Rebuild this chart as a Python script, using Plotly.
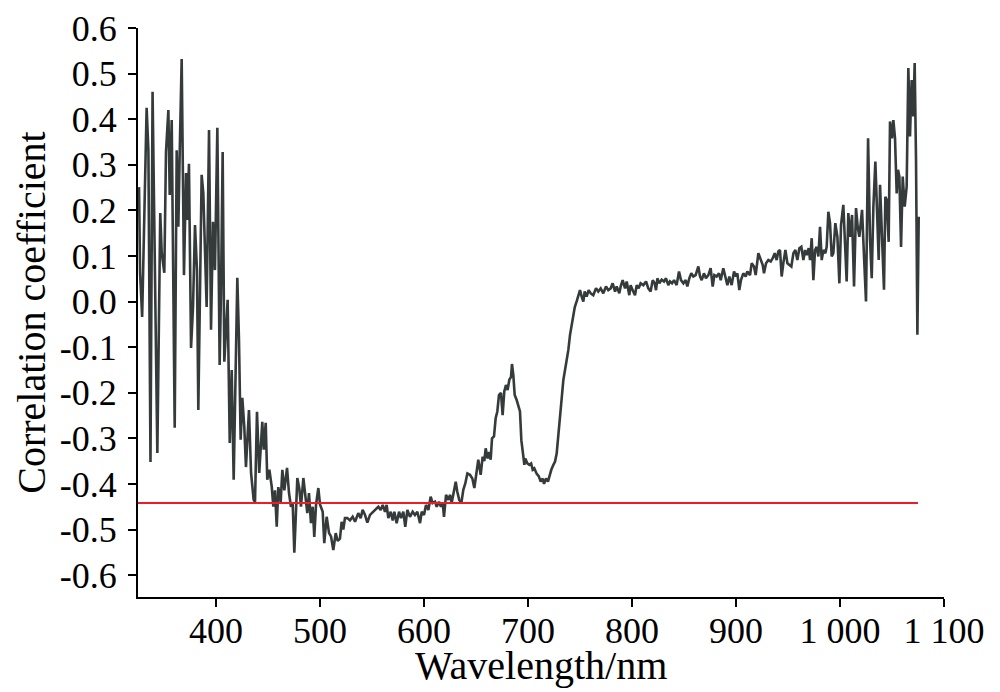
import plotly.graph_objects as go

# ---------------- data ----------------
wavelength_nm = [
    326.0, 327.0, 329.0, 333.3, 335.0, 337.0, 339.0, 341.3, 343.6, 346.4, 347.8, 350.3, 351.9, 354.2,
    355.5, 357.4, 360.3, 362.2, 363.8, 365.1, 367.0, 369.2, 371.2, 372.4, 374.0, 376.0, 377.9, 379.8,
    381.7, 383.0, 386.2, 387.8, 390.1, 391.0, 393.3, 395.2, 397.1, 399.0, 401.3, 403.5, 404.8, 406.4,
    408.0, 409.3, 411.2, 413.2, 415.1, 417.0, 418.9, 420.5,
    422.1, 423.7, 425.3, 427.2, 428.8, 431.7, 433.7, 436.2, 437.5, 439.4, 441.6, 444.5, 445.9, 447.8,
    449.3, 451.3, 453.6, 455.1, 456.7, 458.4, 459.9, 462.2, 463.8, 465.7, 468.3, 470.2, 472.1, 473.7,
    475.3, 476.9, 478.2, 480.1, 481.7, 484.0, 485.6, 487.8, 489.4, 491.3, 493.0, 494.5, 496.2, 498.4,
    500.0, 502.6, 504.1, 506.4, 508.7, 510.6, 512.8, 515.1, 517.0, 519.2,
    520.8, 522.4, 524.0, 526.3, 528.8, 531.4, 533.7, 536.8, 539.1, 541.0, 543.3, 545.5, 548.1, 551.3,
    553.8, 556.1, 558.3, 560.3, 562.5, 564.1, 565.7, 568.0, 569.9, 571.5, 573.7, 576.0, 577.9, 580.1,
    582.0, 584.0, 586.5, 589.1, 591.3, 593.6, 596.2, 597.8, 600.0, 601.9, 604.2, 606.4, 608.3, 610.6,
    612.2, 614.4, 616.3, 618.0, 619.2, 621.2, 623.4, 625.0, 626.6, 628.5, 630.5, 632.0, 633.9, 635.9,
    637.8, 639.7, 641.7, 644.2, 646.5, 648.4, 650.3, 652.2, 654.5, 656.4, 658.0, 659.3, 661.2, 662.8,
    664.1, 665.4, 667.3, 668.9, 670.5, 672.1, 674.0, 675.6, 677.2, 678.8, 680.4, 682.0, 683.7, 684.6,
    685.9, 687.2, 689.1, 691.1, 692.3, 693.6, 694.9, 696.5, 697.4, 699.4, 701.3, 703.0, 704.5, 706.1,
    708.4, 710.3, 712.2, 714.1, 715.4, 717.3, 719.2, 720.5, 722.4, 724.4, 726.0, 727.6, 729.2, 730.8,
    732.4, 734.0, 735.6, 737.2, 738.8, 740.4, 742.0, 743.5, 745.0, 747.0, 748.5,
    750.0, 751.6, 753.2, 754.5, 756.4, 758.3, 760.3, 762.8, 765.4, 767.6, 769.9, 772.4, 775.0, 777.2,
    779.5, 781.4, 783.7, 785.3, 787.8, 789.1, 791.0, 793.3, 794.9, 797.4, 798.7, 800.6, 802.9, 804.5,
    806.4, 808.3, 810.9, 813.5, 815.7, 817.9, 819.9, 821.8, 823.1, 824.4, 826.3, 828.5, 830.8, 832.7,
    834.9, 836.5, 838.5, 840.4, 842.9, 845.2, 847.1, 849.4, 851.6, 853.2, 855.1, 857.0, 859.0, 861.2,
    863.8, 865.4, 867.0, 869.2, 871.1, 873.4, 875.6, 877.6, 879.2, 881.4, 883.6, 885.3, 887.8, 889.7,
    891.7, 893.6, 895.8, 898.1, 900.0, 901.3, 903.2, 904.8, 907.0, 909.3, 910.9, 913.5, 915.1, 917.3,
    918.9, 921.5,
    923.1, 925.7, 926.9, 928.9, 931.1, 933.4, 935.3, 937.2, 939.1, 940.7, 942.3, 943.9, 945.5, 947.5,
    949.4, 951.3, 953.2, 955.2, 957.1, 959.0, 960.9, 962.8, 964.8, 966.4, 968.0, 969.9, 971.2, 972.8,
    974.4, 976.0, 977.6, 979.2, 980.8, 982.4, 984.0, 985.9, 987.2, 988.8, 990.4, 992.0, 993.6, 995.5,
    997.5, 999.4, 1001.0, 1003.2, 1004.8, 1006.4, 1008.0, 1009.6, 1011.6, 1013.5, 1015.4, 1017.0,
    1018.6, 1021.2, 1023.1, 1025.0, 1027.0, 1028.9, 1030.5, 1032.1, 1034.0, 1035.9, 1037.2, 1038.5,
    1040.4, 1042.3, 1043.6, 1044.9, 1046.8, 1048.1, 1050.0, 1051.3, 1052.9, 1054.5, 1055.8, 1057.1,
    1058.7, 1060.3, 1062.2, 1064.1, 1065.7, 1067.3, 1068.9, 1070.5, 1071.8, 1073.1, 1074.4, 1075.7,
]

correlation = [
    0.251, 0.063, -0.034, 0.425, 0.332, -0.352, 0.460, 0.047, -0.332, 0.194, 0.107, 0.063, 0.328, 0.420,
    0.234, 0.398, -0.277, 0.332, 0.164, 0.326, 0.532, 0.058, 0.282, 0.179, 0.302, -0.102, -0.012, 0.168,
    0.069, -0.238, 0.278, 0.238, 0.025, -0.012, 0.376, -0.062, 0.175, 0.069, 0.381, -0.139, 0.019, 0.328,
    -0.132, -0.062, 0.004, -0.310, -0.150, -0.391, -0.172, 0.052,
    -0.084, -0.303, -0.211, -0.275, -0.363, -0.238, -0.376, -0.435, -0.440, -0.242, -0.376, -0.264, -0.325, -0.266,
    -0.391, -0.369, -0.406, -0.450, -0.414, -0.494, -0.407, -0.440, -0.369, -0.414, -0.365, -0.420, -0.450, -0.440,
    -0.551, -0.450, -0.387, -0.410, -0.450, -0.387, -0.420, -0.464, -0.420, -0.486, -0.450, -0.516, -0.445, -0.409,
    -0.445, -0.461, -0.530, -0.472, -0.508, -0.515, -0.545, -0.508, -0.525, -0.520,
    -0.483, -0.500, -0.475, -0.475, -0.480, -0.472, -0.483, -0.464, -0.475, -0.457, -0.468, -0.485, -0.468, -0.461,
    -0.457, -0.450, -0.457, -0.446, -0.461, -0.446, -0.475, -0.461, -0.480, -0.461, -0.486, -0.461, -0.475, -0.461,
    -0.494, -0.457, -0.472, -0.461, -0.468, -0.461, -0.486, -0.461, -0.468, -0.446, -0.457, -0.428, -0.442, -0.439,
    -0.450, -0.439, -0.450, -0.442, -0.472, -0.424, -0.435, -0.424, -0.442, -0.417, -0.395, -0.417, -0.435, -0.442,
    -0.413, -0.399, -0.377, -0.380, -0.388, -0.409, -0.377, -0.347, -0.380, -0.340, -0.350, -0.322, -0.344, -0.330,
    -0.347, -0.300, -0.296, -0.256, -0.241, -0.205, -0.200, -0.249, -0.197, -0.183, -0.194, -0.172, -0.165, -0.137,
    -0.162, -0.205, -0.216, -0.234, -0.241, -0.304, -0.325, -0.358, -0.344, -0.355, -0.358, -0.355, -0.369, -0.366,
    -0.378, -0.383, -0.395, -0.388, -0.400, -0.388, -0.395, -0.383, -0.369, -0.358, -0.351, -0.333, -0.289, -0.245,
    -0.208, -0.172, -0.150, -0.128, -0.106, -0.073, -0.050, -0.030, -0.012, 0.002, 0.015,
    0.025, 0.011, 0.000, 0.022, 0.011, 0.025, 0.018, 0.014, 0.029, 0.022, 0.029, 0.018, 0.033, 0.025,
    0.029, 0.040, 0.022, 0.033, 0.018, 0.033, 0.047, 0.029, 0.044, 0.014, 0.036, 0.025, 0.014, 0.036,
    0.029, 0.040, 0.036, 0.044, 0.029, 0.022, 0.047, 0.040, 0.025, 0.051, 0.040, 0.048, 0.044, 0.051,
    0.036, 0.044, 0.040, 0.047, 0.036, 0.066, 0.047, 0.040, 0.047, 0.033, 0.051, 0.062, 0.055, 0.058,
    0.077, 0.055, 0.047, 0.062, 0.051, 0.058, 0.073, 0.033, 0.058, 0.055, 0.062, 0.047, 0.073, 0.055,
    0.036, 0.055, 0.036, 0.066, 0.055, 0.062, 0.025, 0.047, 0.062, 0.055, 0.066, 0.058, 0.084, 0.077,
    0.058, 0.106,
    0.095, 0.080, 0.062, 0.084, 0.091, 0.088, 0.095, 0.106, 0.091, 0.110, 0.113, 0.055, 0.084, 0.113,
    0.084, 0.080, 0.077, 0.106, 0.113, 0.091, 0.117, 0.120, 0.091, 0.113, 0.102, 0.117, 0.091, 0.139,
    0.047, 0.113, 0.120, 0.099, 0.164, 0.091, 0.113, 0.106, 0.120, 0.197, 0.172, 0.099, 0.106, 0.172,
    0.142, 0.040, 0.168, 0.212, 0.120, 0.044, 0.194, 0.142, 0.190, 0.033, 0.205, 0.164,
    0.142, 0.201, 0.099, 0.000, 0.358, 0.135, 0.051, 0.208, 0.307, 0.201, 0.091, 0.256,
    0.150, 0.026, 0.230, 0.223, 0.131, 0.395, 0.358, 0.398, 0.358, 0.237, 0.289, 0.274,
    0.120, 0.274, 0.208, 0.252, 0.512, 0.362, 0.486, 0.406, 0.523, 0.311, -0.073, 0.186,
]

threshold_value = -0.442
threshold_span_nm = [325, 1075]

x_tick_values = [400, 500, 600, 700, 800, 900, 1000, 1100]
x_tick_labels = ["400", "500", "600", "700", "800", "900", "1 000", "1 100"]
y_tick_values = [0.6, 0.5, 0.4, 0.3, 0.2, 0.1, 0.0, -0.1, -0.2, -0.3, -0.4, -0.5, -0.6]
y_tick_labels = ["0.6", "0.5", "0.4", "0.3", "0.2", "0.1", "0.0",
                 "-0.1", "-0.2", "-0.3", "-0.4", "-0.5", "-0.6"]

x_title = "Wavelength/nm"
y_title = "Correlation coefficient"

# ---------------- figure ----------------
FONT = "Liberation Serif, Times New Roman, serif"
TICK_SIZE = 36
TITLE_SIZE = 40

fig = go.Figure()
fig.add_trace(go.Scatter(
    x=wavelength_nm, y=correlation, mode="lines",
    line=dict(color="#353b3b", width=2.6),
    showlegend=False, hoverinfo="skip",
))
fig.add_trace(go.Scatter(
    x=threshold_span_nm, y=[threshold_value] * len(threshold_span_nm), mode="lines",
    line=dict(color="#ee1c25", width=2),
    showlegend=False, hoverinfo="skip",
))

# the page body adds an 8 px offset, margins compensate for it
fig.update_layout(
    width=1000, height=692,
    margin=dict(l=130, r=64, t=20, b=103, autoexpand=False),
    paper_bgcolor="white", plot_bgcolor="white",
    font=dict(family=FONT, size=TICK_SIZE, color="black"),
)
fig.update_xaxes(
    range=[325, 1100], automargin=False,
    tickmode="array", tickvals=x_tick_values, ticktext=x_tick_labels,
    showgrid=False, zeroline=False,
    showline=True, linecolor="black", linewidth=2,
    ticks="outside", ticklen=8, tickwidth=2, tickcolor="black",
    tickfont=dict(family=FONT, size=TICK_SIZE, color="black"),
    ticklabelstandoff=-7,
)
fig.update_yaxes(
    range=[-0.648, 0.6], automargin=False,
    tickmode="array", tickvals=y_tick_values, ticktext=y_tick_labels,
    showgrid=False, zeroline=False,
    showline=True, linecolor="black", linewidth=2,
    ticks="outside", ticklen=8, tickwidth=2, tickcolor="black",
    tickfont=dict(family=FONT, size=TICK_SIZE, color="black"),
    ticklabelstandoff=4,
    title=dict(text=y_title, font=dict(family=FONT, size=TITLE_SIZE, color="black"), standoff=2),
)
fig.add_annotation(
    text=x_title, xref="paper", yref="paper", x=0.5, y=0,
    xanchor="center", yanchor="middle", yshift=-68, showarrow=False,
    font=dict(family=FONT, size=TITLE_SIZE, color="black"),
)

fig.write_html("out.html")
